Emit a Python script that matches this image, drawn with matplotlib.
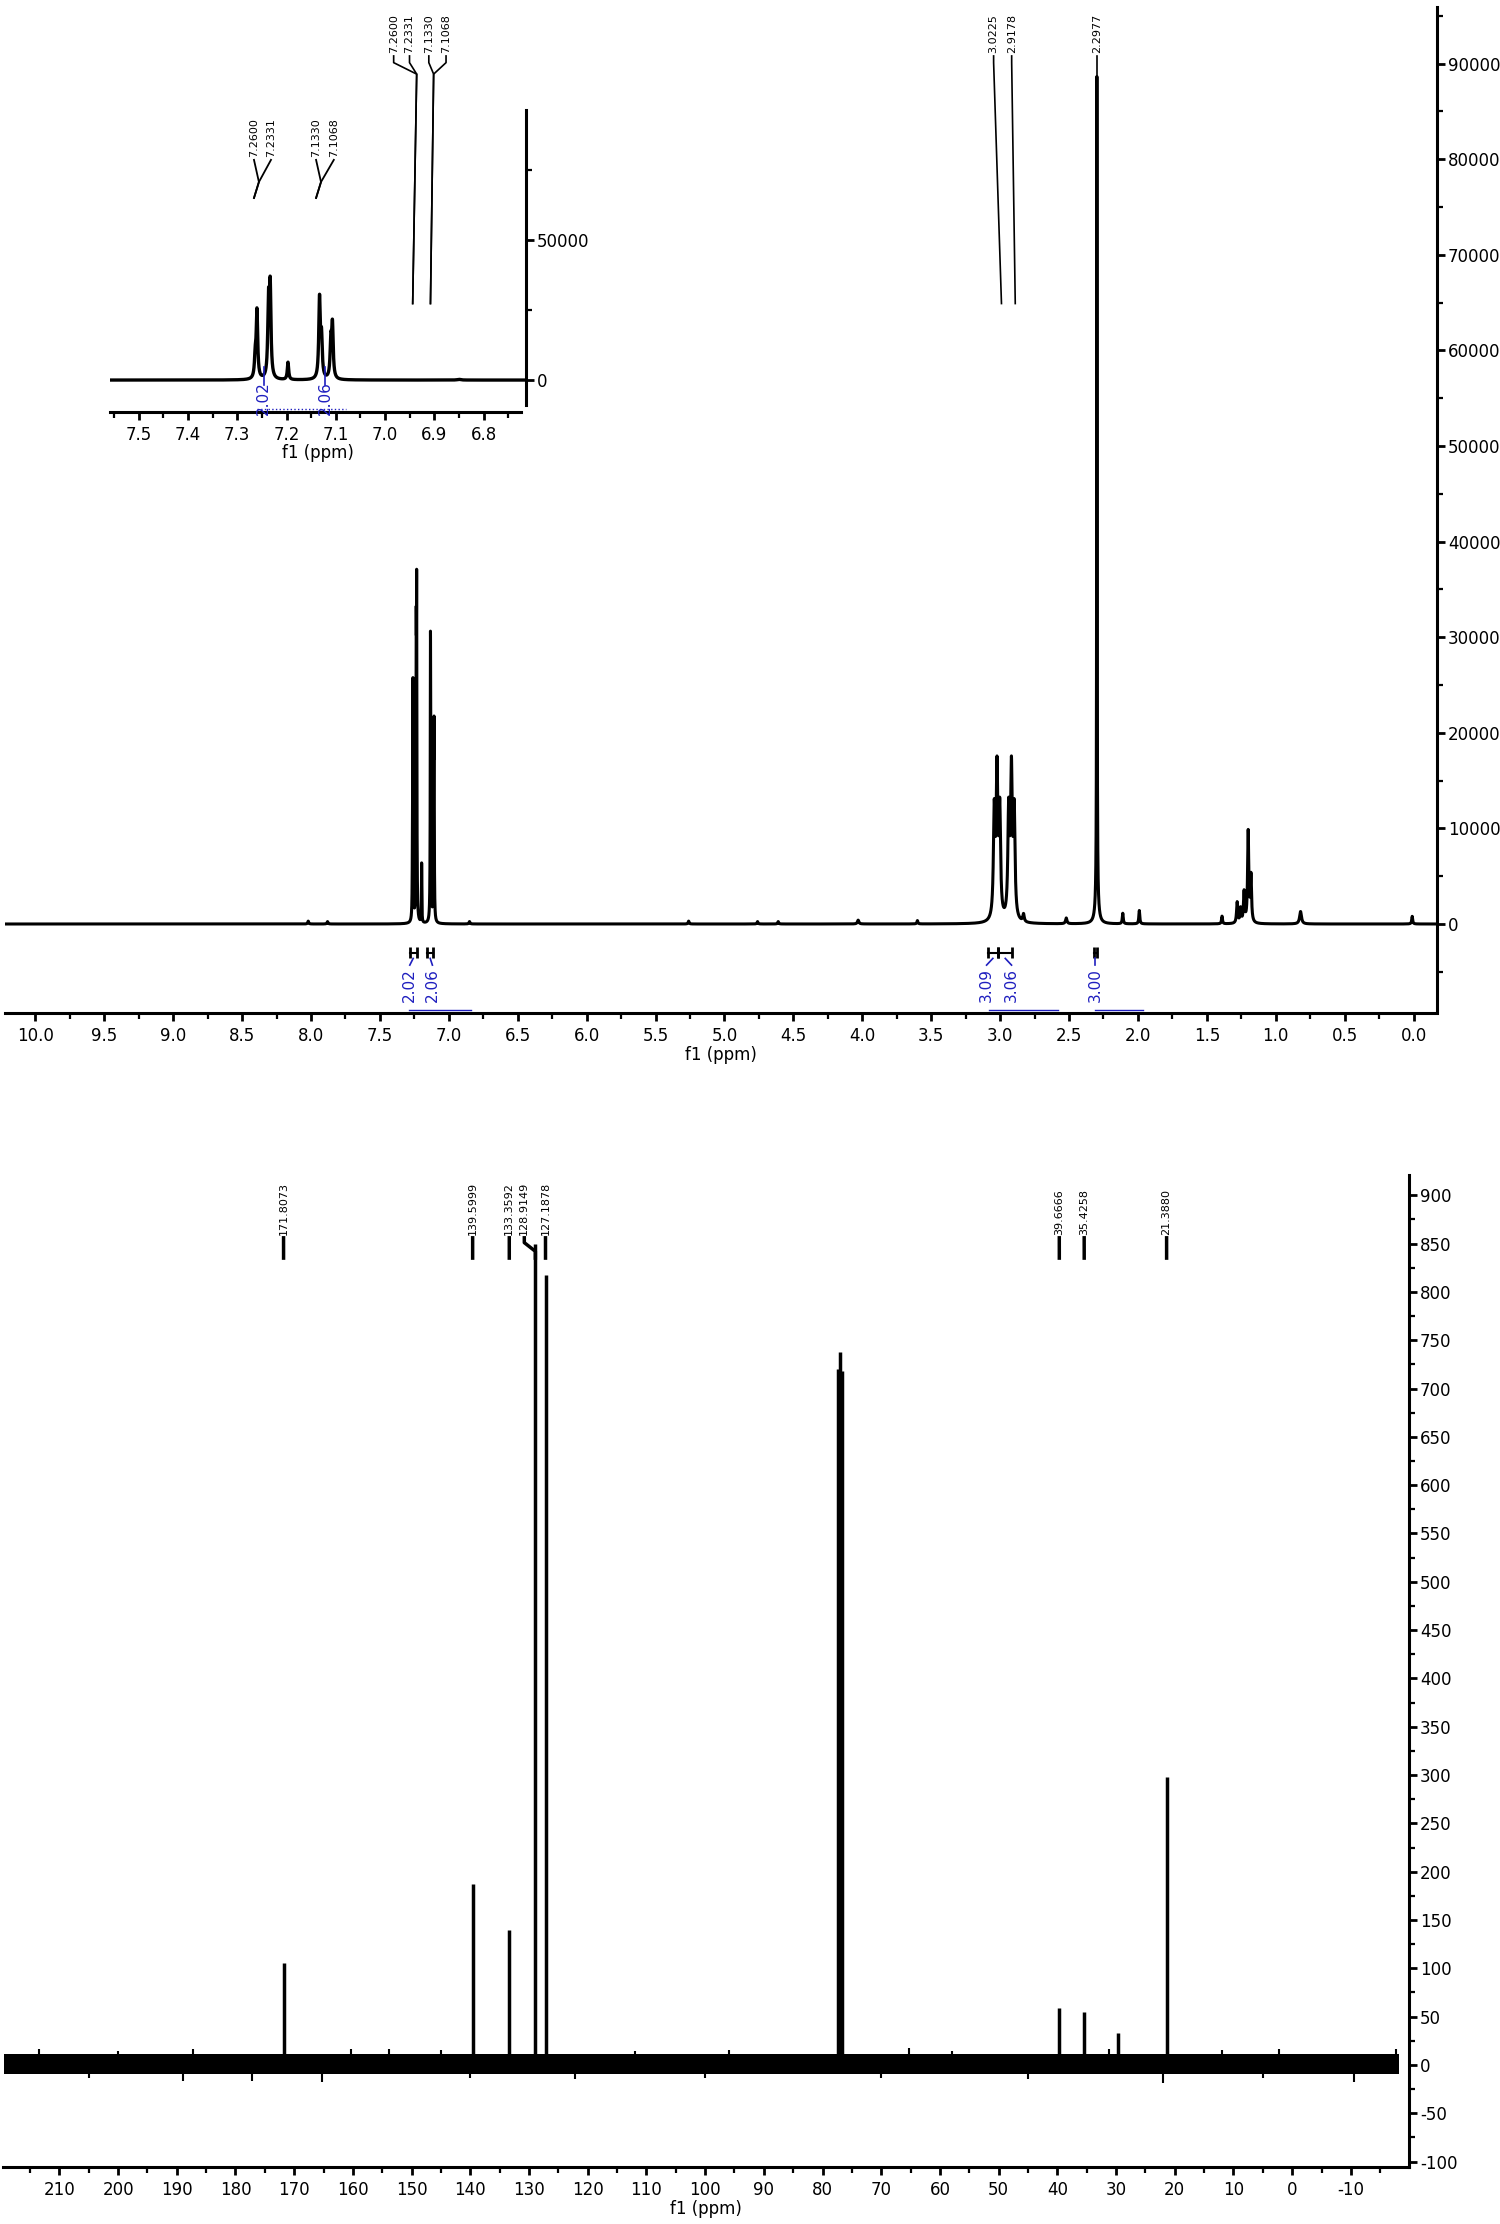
"""1H and 13C NMR spectra, two stacked panels, 1H with an expanded inset."""

import matplotlib.pyplot as plt
from matplotlib.ticker import MultipleLocator, FixedLocator
import numpy as np

plt.rcParams['axes.unicode_minus'] = False
plt.rcParams['font.family'] = ['DejaVu Sans']

# ── 1H data (ppm, height, half width) ───────────────────────────────────────
h1_shift = [7.2635, 7.2600, 7.2365, 7.2331, 7.1970, 7.1330, 7.1290, 7.1100, 7.1068,
            3.0425, 3.0225, 3.0025, 2.9378, 2.9178, 2.8978, 2.8300,
            2.2977, 2.2977, 2.5200, 2.1100, 1.9900, 1.3900, 1.2800, 1.2550,
            1.2300, 1.2000, 1.1800, 0.8200, 0.0100, 4.0300, 5.2600, 8.0200,
            7.8800, 6.8500, 4.7600, 4.6100, 3.6000]
h1_height = [7000, 24000, 25900, 31100, 6200, 28100, 13800, 12600, 18400,
             11000, 15000, 11000, 11000, 15000, 11000, 800,
             86200, 2500, 600, 1100, 1400, 800, 2200, 1500,
             3200, 9500, 4800, 1300, 800, 400, 300, 300,
             250, 250, 250, 250, 350]
h1_hwhm = [0.0018, 0.0018, 0.0018, 0.0018, 0.0016, 0.0018, 0.0018, 0.0018, 0.0018,
           0.007, 0.007, 0.007, 0.007, 0.007, 0.007, 0.006,
           0.0018, 0.012, 0.006, 0.004, 0.004, 0.004, 0.005, 0.005,
           0.005, 0.005, 0.005, 0.008, 0.004, 0.006, 0.004, 0.004,
           0.004, 0.004, 0.004, 0.004, 0.004]

h1_peak_labels = ['7.2600', '7.2331', '7.1330', '7.1068', '3.0225', '2.9178', '2.2977']
h1_int_values = ['2.02', '2.06', '3.09', '3.06', '3.00']
h1_int_from = [7.285, 7.155, 3.090, 3.015, 2.320]
h1_int_to = [7.232, 7.115, 3.015, 2.910, 2.300]
h1_int_curve = [(7.29, 6.84), (3.08, 2.58), (2.31, 1.96)]

# ── 13C data ────────────────────────────────────────────────────────────────
c13_shift = [171.8073, 139.5999, 133.3592, 128.9149, 127.1878,
             77.32, 77.00, 76.68, 39.6666, 35.4258, 29.70, 21.3880]
c13_height = [106, 187, 140, 850, 817, 720, 738, 718, 59, 55, 33, 298]
c13_peak_labels = ['171.8073', '139.5999', '133.3592', '128.9149', '127.1878',
                   '39.6666', '35.4258', '21.3880']
c13_label_peaks = [171.8073, 139.5999, 133.3592, 128.9149, 127.1878,
                   39.6666, 35.4258, 21.3880]
noise_low, noise_high = -9, 11
spike_up_x = [213.5, 187.3, 160.3, 153.8, 65.3, 31.2, 2.2, -17.7, 200.0, 145.0,
              112.0, 96.0, 58.0, 12.0]
spike_up_y = [16, 17, 16, 17, 18, 16, 16, 16, 14, 15, 14, 15, 14, 15]
spike_dn_x = [189.0, 177.2, 165.2, 122.1, 22.0, -10.5, 205.0, 140.0, 100.0,
              70.0, 45.0, 5.0]
spike_dn_y = [-17, -17, -18, -15, -19, -18, -13, -14, -13, -14, -15, -13]

BLUE = '#1f1fbf'
W, H = 1500, 2224


def fig_rect(x0, y0, x1, y1):
    return [x0 / W, 1 - y1 / H, (x1 - x0) / W, (y1 - y0) / H]


def spectrum(x):
    y = np.zeros_like(x)
    for p, h, w in zip(h1_shift, h1_height, h1_hwhm):
        y += h * w ** 2 / ((x - p) ** 2 + w ** 2)
    return y


def style_axes(ax, lab=12):
    ax.spines['left'].set_visible(False)
    ax.spines['top'].set_visible(False)
    for s in ('bottom', 'right'):
        ax.spines[s].set_linewidth(2.2)
    ax.tick_params(axis='y', left=False, right=True, labelleft=False,
                   labelright=True)
    ax.tick_params(which='major', direction='out', length=6, width=2,
                   labelsize=lab, pad=2)
    ax.tick_params(which='minor', direction='out', length=4, width=1.6)
    ax.tick_params(axis='y', which='minor', left=False, right=True)
    ax.tick_params(axis='x', pad=4)


fig = plt.figure(figsize=(15, 22.24), dpi=100)
fig.patch.set_facecolor('white')

# ── 1H main panel ───────────────────────────────────────────────────────────
xs = np.linspace(10.22, -0.17, 90000)
ys = spectrum(xs)

ax1 = fig.add_axes(fig_rect(5, 7, 1437, 1013))
ax1.plot(xs, ys, color='k', lw=2.2)
ax1.set_xlim(10.22, -0.17)
ax1.set_ylim(-9310, 95920)
style_axes(ax1)
ax1.set_xticks(np.arange(0, 10.01, 0.5))
ax1.set_xticklabels([f'{v:.1f}' for v in np.arange(0, 10.01, 0.5)])
ax1.xaxis.set_minor_locator(MultipleLocator(0.25))
ax1.set_yticks(np.arange(0, 90001, 10000))
ax1.yaxis.set_minor_locator(MultipleLocator(5000))
ax1.spines['right'].set_bounds(-9000, 95920)
ax1.set_xlabel('f1 (ppm)', fontsize=12, labelpad=1)

# peak labels and leader lines
lab_x = [7.40, 7.285, 7.145, 7.02, 3.047, 2.916, 2.2977]
for lx, t in zip(lab_x, h1_peak_labels):
    ax1.text(lx, 91100, t, rotation=90, ha='center', va='bottom', fontsize=8)
tips = [7.233, 7.233, 7.11, 7.11]
bots = [7.262, 7.262, 7.133, 7.133]
for lx, tp, bt in zip(lab_x[:4], tips, bots):
    ax1.plot([lx, lx, tp, bt], [90800, 90100, 88900, 64900], color='k', lw=1.2)
for lx, bt in zip(lab_x[4:6], [2.99, 2.89]):
    ax1.plot([lx, lx, bt], [90800, 90100, 64900], color='k', lw=1.2)
ax1.plot([lab_x[6], lab_x[6]], [90800, 88700], color='k', lw=1.2)

# integrals
int_lab_x = [7.283, 7.119, 3.098, 2.917, 2.31]
for a, b, lx, v in zip(h1_int_from, h1_int_to, int_lab_x, h1_int_values):
    ax1.vlines([a, b], -2400, -3600, color='k', lw=2)
    ax1.plot([a, b], [-3000, -3000], color='k', lw=1.5)
    ax1.plot([(a + b) / 2, lx], [-3600, -4300], color=BLUE, lw=1.2)
    ax1.text(lx, -6400, v, rotation=90, ha='center', va='center',
             fontsize=11, color=BLUE)
for a, b in h1_int_curve:
    ax1.plot([a, b], [-9000, -9000], color=BLUE, lw=1)

# ── 1H inset ────────────────────────────────────────────────────────────────
axi = fig.add_axes(fig_rect(109.6, 110, 526, 412))
axi.patch.set_alpha(0)
sel = (xs < 7.57) & (xs > 6.70)
axi.plot(xs[sel], ys[sel], color='k', lw=2.4)
axi.set_xlim(7.559, 6.714)
axi.set_ylim(-11400, 96400)
style_axes(axi)
axi.spines['bottom'].set_bounds(7.559, 6.725)
axi.spines['right'].set_bounds(-8900, 96400)
axi.set_xticks(np.arange(6.8, 7.51, 0.1))
axi.set_xticklabels([f'{v:.1f}' for v in np.arange(6.8, 7.51, 0.1)])
axi.xaxis.set_minor_locator(MultipleLocator(0.05))
axi.set_yticks([0, 50000])
axi.yaxis.set_minor_locator(FixedLocator([25000, 75000]))
axi.set_xlabel('f1 (ppm)', fontsize=12, labelpad=0)

in_lab_x = [7.266, 7.2315, 7.140, 7.104]
in_tips = [7.256, 7.256, 7.130, 7.130]
in_bots = [7.266, 7.266, 7.140, 7.140]
for lx, tp, bt, t in zip(in_lab_x, in_tips, in_bots, h1_peak_labels[:4]):
    axi.text(lx, 79500, t, rotation=90, ha='center', va='bottom', fontsize=8)
    axi.plot([lx, tp, bt], [78600, 70700, 65000], color='k', lw=1.3)
for lx, v in zip([7.246, 7.122], h1_int_values[:2]):
    axi.plot([lx, lx], [-1800, 4500], color=BLUE, lw=1.2)
    axi.text(lx, -6400, v, rotation=90, ha='center', va='center',
             fontsize=11, color=BLUE)
axi.plot([7.26, 7.08], [-10300, -10300], color=BLUE, lw=1, ls=':')

# ── 13C panel ───────────────────────────────────────────────────────────────
ax2 = fig.add_axes(fig_rect(3, 1175, 1409, 2167))
ax2.fill_between([219.5, -18.2], noise_low, noise_high, color='k', lw=0)
ax2.vlines(spike_up_x, 0, spike_up_y, color='k', lw=1.5)
ax2.vlines(spike_dn_x, spike_dn_y, 0, color='k', lw=1.5)
ax2.vlines(c13_shift, 0, c13_height, color='k', lw=2.5)
ax2.set_xlim(219.6, -19.9)
ax2.set_ylim(-105.6, 921)
style_axes(ax2)
ax2.set_xticks(np.arange(-10, 211, 10))
ax2.xaxis.set_minor_locator(MultipleLocator(5))
ax2.set_yticks(np.arange(-100, 901, 50))
ax2.yaxis.set_minor_locator(MultipleLocator(25))
ax2.set_xlabel('f1 (ppm)', fontsize=12, labelpad=1)

c13_lab_x = [171.81, 139.60, 133.36, 130.8, 127.19, 39.67, 35.43, 21.39]
for lx, px, t in zip(c13_lab_x, c13_label_peaks, c13_peak_labels):
    ax2.text(lx, 859, t, rotation=90, ha='center', va='bottom', fontsize=8)
    ax2.plot([lx, lx, px, px], [856, 851, 842, 835], color='k', lw=2.5)

fig.savefig('out.png', dpi=100, facecolor='white')
